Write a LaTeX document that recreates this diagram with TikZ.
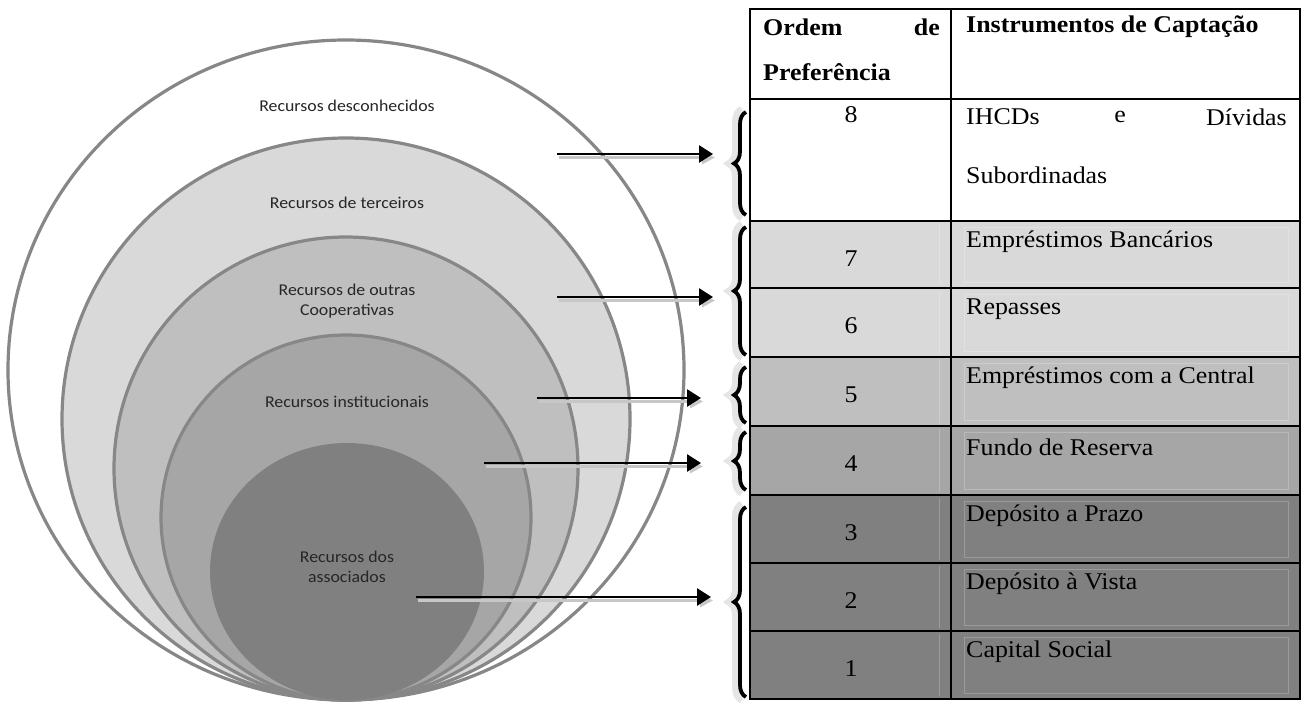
\documentclass[tikz,border=0pt]{standalone}
\usepackage{fontspec}
\setmainfont{Liberation Serif}[FakeStretch=1.08]
\newfontfamily\calfont{Carlito}[FakeStretch=1.08]
\usetikzlibrary{arrows.meta,decorations.pathreplacing}

\begin{document}
\begin{tikzpicture}[x=1pt,y=-1pt,
    oval/.style={draw=black!47, line width=3.2pt},
    lab/.style={font=\calfont\fontsize{16.5}{19.5}\selectfont, text=black!85, align=center},
    cell/.style={font=\fontsize{24}{28}\selectfont, inner sep=0pt},
    hcell/.style={font=\fontsize{24}{28}\selectfont\bfseries, inner sep=0pt},
    grid/.style={line width=2.4pt},
    boxline/.style={draw=white, opacity=0.22, line width=0.8pt},
    arr/.style={line width=2.8pt, -{Triangle[length=14pt,width=17pt]},
        preaction={draw=black!22, line width=3pt, -{Triangle[length=13pt,width=13pt]},
            transform canvas={shift={(2pt,-3.5pt)}}}},
    brc/.style={decorate, decoration={brace, amplitude=12pt}, line width=3.8pt},
    brcglow/.style={decorate, decoration={brace, amplitude=13pt}, line width=7pt, draw=black!10}]
    \useasboundingbox (0,0) rectangle (1305,705);
    \fill[white] (0,0) rectangle (1305,705);

    % Nested ovals
    \foreach \cy/\rx/\ry/\fc in {370/338/330/white, 419/284/281/black!15,
        468.5/232/231.5/black!25, 517.5/185/182.5/black!35}
        \filldraw[oval, fill=\fc] (346,\cy) ellipse [x radius=\rx, y radius=\ry];
    \fill[black!50] (347,571.5) ellipse [x radius=137, y radius=128.5];

    \node[lab] (desc) at (347,106) {Recursos desconhecidos};
    \node[lab] (terc) at (347,203) {Recursos de terceiros};
    \node[lab] (coop) at (347,301) {Recursos de outras\\Cooperativas};
    \node[lab] (inst) at (347,402) {Recursos institucionais};
    \node[lab] (assoc) at (347,567) {Recursos dos\\associados};

    % Table fills
    \foreach \ya/\yb/\fc in {221/357/black!15, 357/426/black!25, 426/495/black!35, 495/699/black!50}
        \fill[\fc] (750,\ya) rectangle (1300,\yb);
    \foreach \ya/\yb in {221/288, 288/357, 357/426, 426/495, 495/563, 563/631, 631/699} {
        \draw[boxline] (939,\ya+3) -- (939,\yb-3);
        \draw[boxline] (964,\ya+6) rectangle (1288,\yb-6);
    }

    % Table grid
    \draw[grid] (750,9) rectangle (1300,699);
    \draw[grid] (951,9) -- (951,699);
    \foreach \y in {99,221,288,357,426,495,563,631}
        \draw[grid] (750,\y) -- (1300,\y);

    % Header and row 8
    \node[hcell, anchor=west] (ord) at (763,27) {Ordem};
    \node[hcell, anchor=east] (de) at (940,27) {de};
    \node[hcell, anchor=west] (pref) at (763,72) {Preferência};
    \node[hcell, anchor=west] (instr) at (966,27) {Instrumentos de Captação};
    \node[cell] (n8) at (851,115) {8};
    \node[cell, anchor=west] (ihcd) at (966,117) {IHCDs};
    \node[cell] (e8) at (1120,117) {e};
    \node[cell, anchor=east] (div) at (1287,117) {Dívidas};
    \node[cell, anchor=west] (sub) at (966,175) {Subordinadas};

    % Rows 7 to 1
    \foreach \n/\ya/\txt in {7/221/Empréstimos Bancários, 6/288/Repasses,
        5/357/Empréstimos com a Central, 4/426/Fundo de Reserva,
        3/495/Depósito a Prazo, 2/563/Depósito à Vista, 1/631/Capital Social} {
        \node[cell] (n\n) at (851,\ya+38) {\n};
        \node[cell, anchor=west] (i\n) at (966,\ya+21) {\txt};
    }

    % Braces
    \foreach \ya/\yb in {112/215, 227/355, 367/423, 432/490, 507/697} {
        \draw[brcglow] (742,\yb+3) -- (742,\ya-3);
        \draw[brc] (746,\yb) -- (746,\ya);
    }

    % Arrows
    \coordinate (a8) at (557,154);   \coordinate (e8) at (713,154);
    \coordinate (a76) at (557,297);  \coordinate (e76) at (713,297);
    \coordinate (a5) at (537,398);   \coordinate (e5) at (701,398);
    \coordinate (a4) at (484,463);   \coordinate (e4) at (701,463);
    \coordinate (a321) at (416,597); \coordinate (e321) at (711,597);
    \draw[arr] (a8) -- (e8);
    \draw[arr] (a76) -- (e76);
    \draw[arr] (a5) -- (e5);
    \draw[arr] (a4) -- (e4);
    \draw[arr] (a321) -- (e321);
\end{tikzpicture}
\end{document}
